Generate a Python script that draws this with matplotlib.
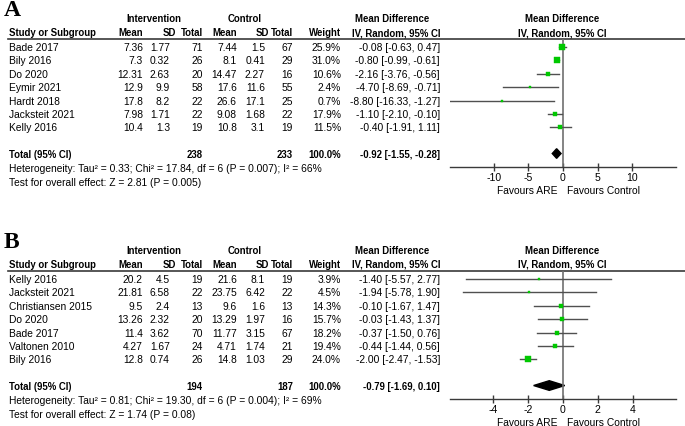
import matplotlib
matplotlib.use("Agg")
import matplotlib.pyplot as plt
import numpy as np
from matplotlib.patches import Polygon

plt.rcParams['font.family'] = ['Liberation Sans', 'DejaVu Sans']
plt.rcParams['axes.unicode_minus'] = False

# ---- panel A data ----
a_study = ["Bade 2017", "Bily 2016", "Do 2020", "Eymir 2021", "Hardt 2018", "Jacksteit 2021", "Kelly 2016"]
a_int_mean = ["7.36", "7.3", "12.31", "12.9", "17.8", "7.98", "10.4"]
a_int_sd = ["1.77", "0.32", "2.63", "9.9", "8.2", "1.71", "1.3"]
a_int_n = ["71", "26", "20", "58", "22", "22", "19"]
a_ctl_mean = ["7.44", "8.1", "14.47", "17.6", "26.6", "9.08", "10.8"]
a_ctl_sd = ["1.5", "0.41", "2.27", "11.6", "17.1", "1.68", "3.1"]
a_ctl_n = ["67", "29", "16", "55", "25", "22", "19"]
a_weight = [25.9, 31.0, 10.6, 2.4, 0.7, 17.9, 11.5]
a_md = [-0.08, -0.80, -2.16, -4.70, -8.80, -1.10, -0.40]
a_lo = [-0.63, -0.99, -3.76, -8.69, -16.33, -2.10, -1.91]
a_hi = [0.47, -0.61, -0.56, -0.71, -1.27, -0.10, 1.11]
a_total = ("238", "233", -0.92, -1.55, -0.28)
a_het = "Heterogeneity: Tau\u00b2 = 0.33; Chi\u00b2 = 17.84, df = 6 (P = 0.007); I\u00b2 = 66%"
a_test = "Test for overall effect: Z = 2.81 (P = 0.005)"
a_ticks = [-10, -5, 0, 5, 10]

# ---- panel B data ----
b_study = ["Kelly 2016", "Jacksteit 2021", "Christiansen 2015", "Do 2020", "Bade 2017", "Valtonen 2010", "Bily 2016"]
b_int_mean = ["20.2", "21.81", "9.5", "13.26", "11.4", "4.27", "12.8"]
b_int_sd = ["4.5", "6.58", "2.4", "2.32", "3.62", "1.67", "0.74"]
b_int_n = ["19", "22", "13", "20", "70", "24", "26"]
b_ctl_mean = ["21.6", "23.75", "9.6", "13.29", "11.77", "4.71", "14.8"]
b_ctl_sd = ["8.1", "6.42", "1.6", "1.97", "3.15", "1.74", "1.03"]
b_ctl_n = ["19", "22", "13", "16", "67", "21", "29"]
b_weight = [3.9, 4.5, 14.3, 15.7, 18.2, 19.4, 24.0]
b_md = [-1.40, -1.94, -0.10, -0.03, -0.37, -0.44, -2.00]
b_lo = [-5.57, -5.78, -1.67, -1.43, -1.50, -1.44, -2.47]
b_hi = [2.77, 1.90, 1.47, 1.37, 0.76, 0.56, -1.53]
b_total = ("194", "187", -0.79, -1.69, 0.10)
b_het = "Heterogeneity: Tau\u00b2 = 0.81; Chi\u00b2 = 19.30, df = 6 (P = 0.004); I\u00b2 = 69%"
b_test = "Test for overall effect: Z = 1.74 (P = 0.08)"
b_ticks = [-4, -2, 0, 2, 4]

W, H = 685, 427
FS = 7.4      # regular text
FSB = 6.9     # bold headers
GREEN = '#00c800'
LINE = '#3a3a3a'

fig = plt.figure(figsize=(W / 100, H / 100), dpi=100)
bg = fig.add_axes([0, 0, 1, 1])
bg.set_xlim(0, W)
bg.set_ylim(H, 0)
bg.axis('off')


def ci_text(m, lo, hi):
    return f"{m:.2f} [{lo:.2f}, {hi:.2f}]"


def panel(letter, top, study, im, isd, inn, cm, csd, cn, weight, md, lo, hi, total, het, test, ticks, xmax):
    # top = pixel y of the panel letter
    y_grp = top + 9
    y_head = top + 23
    y_line = top + 30
    y0 = top + 38
    step = 13.4
    bg.text(4, top + 1, letter, fontsize=17, fontweight='bold', family='Liberation Serif', va='center', ha='left')
    bg.text(154, y_grp, "Intervention", fontsize=FSB, fontweight='bold', ha='center', va='center')
    bg.text(245, y_grp, "Control", fontsize=FSB, fontweight='bold', ha='center', va='center')
    bg.text(392, y_grp, "Mean Difference", fontsize=FSB, fontweight='bold', ha='center', va='center')
    bg.text(562, y_grp, "Mean Difference", fontsize=FSB, fontweight='bold', ha='center', va='center')
    bg.text(9, y_head, "Study or Subgroup", fontsize=FSB, fontweight='bold', ha='left', va='center')
    for x, s in [(143, "Mean"), (176, "SD"), (203, "Total"), (237, "Mean"), (269, "SD"), (293, "Total"), (341, "Weight")]:
        bg.text(x, y_head, s, fontsize=FSB, fontweight='bold', ha='right', va='center')
    bg.text(396, y_head, "IV, Random, 95% CI", fontsize=FSB, fontweight='bold', ha='center', va='center')
    bg.text(562, y_head, "IV, Random, 95% CI", fontsize=FSB, fontweight='bold', ha='center', va='center')
    bg.plot([8, W], [y_line, y_line], color=LINE, lw=1.2)

    for i in range(len(study)):
        y = y0 + i * step
        bg.text(9, y, study[i], fontsize=FS, ha='left', va='center')
        cols = [(143, im[i]), (170, isd[i]), (203, inn[i]), (237, cm[i]), (265, csd[i]), (293, cn[i]),
                (341, f"{weight[i]:.1f}%"), (440, ci_text(md[i], lo[i], hi[i]))]
        for x, s in cols:
            bg.text(x, y, s, fontsize=FS, ha='right', va='center')

    n = len(study)
    y_tot = y0 + (n + 0.95) * step
    bg.text(9, y_tot, "Total (95% CI)", fontsize=FSB, fontweight='bold', ha='left', va='center')
    bg.text(203, y_tot, total[0], fontsize=FSB, fontweight='bold', ha='right', va='center')
    bg.text(293, y_tot, total[1], fontsize=FSB, fontweight='bold', ha='right', va='center')
    bg.text(341, y_tot, "100.0%", fontsize=FSB, fontweight='bold', ha='right', va='center')
    bg.text(440, y_tot, ci_text(*total[2:]), fontsize=FSB, fontweight='bold', ha='right', va='center')
    bg.text(9, y_tot + 14, het, fontsize=FS, ha='left', va='center')
    bg.text(9, y_tot + 28, test, fontsize=FS, ha='left', va='center')

    # forest axes
    y_axis = y_tot + 13.5
    left, right = 450, 676
    ax = fig.add_axes([left / W, 1 - y_axis / H, (right - left) / W, (y_axis - y_line) / H])
    ax.set_xlim(-xmax, xmax)
    ax.set_ylim((y_axis - y0) / step, (y_line - y0) / step)
    ax.patch.set_alpha(0)
    for sp in ['top', 'right', 'left']:
        ax.spines[sp].set_visible(False)
    ax.spines['bottom'].set_color(LINE)
    ax.spines['bottom'].set_linewidth(1.0)
    ax.set_yticks([])
    ax.set_xticks(ticks)
    ax.tick_params(axis='x', direction='inout', length=5.5, width=1.0, color=LINE, labelsize=FS + 0.2, pad=0.5)
    ax.axvline(0, color='#707070', lw=1.2)
    for i in range(n):
        ax.plot([lo[i], hi[i]], [i, i], color='#505050', lw=1.0)
        side = max(2.0, 1.1 * np.sqrt(weight[i]))
        ax.plot(md[i], i, marker='s', color=GREEN, markersize=side * 0.72, mec=GREEN, mew=0.3)
    t_m, t_lo, t_hi = total[2:]
    h = 0.36
    ax.add_patch(Polygon([[t_lo, n + 0.95], [t_m, n + 0.95 - h], [t_hi, n + 0.95], [t_m, n + 0.95 + h]],
                         closed=True, color='black'))
    y_fav = y_axis + 23
    bg.text(558, y_fav, "Favours ARE", fontsize=FS, ha='right', va='center')
    bg.text(567, y_fav, "Favours Control", fontsize=FS, ha='left', va='center')


panel("A", 10, a_study, a_int_mean, a_int_sd, a_int_n, a_ctl_mean, a_ctl_sd, a_ctl_n,
      a_weight, a_md, a_lo, a_hi, a_total, a_het, a_test, a_ticks, 16.3)
panel("B", 242, b_study, b_int_mean, b_int_sd, b_int_n, b_ctl_mean, b_ctl_sd, b_ctl_n,
      b_weight, b_md, b_lo, b_hi, b_total, b_het, b_test, b_ticks, 6.5)

fig.savefig("out.png", dpi=100)
